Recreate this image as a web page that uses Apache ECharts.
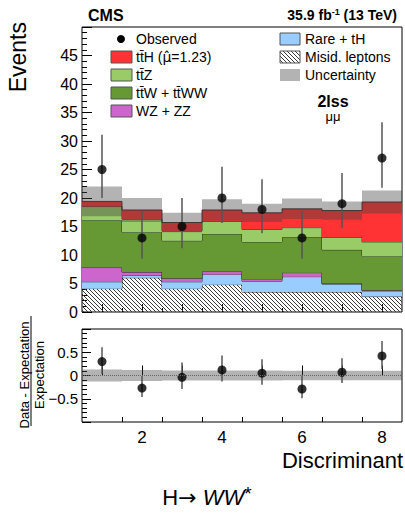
<!DOCTYPE html>
<html>
<head>
<meta charset="utf-8">
<script src="https://cdn.jsdelivr.net/npm/echarts@6/dist/echarts.min.js"></script>
<style>
  html, body { margin: 0; padding: 0; background: #fff; }
  #chart { width: 405px; height: 514px; }
</style>
</head>
<body>
<div id="chart"></div>
<script>
// bins of the discriminant
const bins = [1, 2, 3, 4, 5, 6, 7, 8];
// stacked expectations, bottom to top
const misid = [4.1, 6.0, 4.1, 4.8, 3.5, 3.5, 3.5, 2.7];
const rare = [1.2, 0.4, 1.2, 1.8, 1.9, 2.7, 1.4, 1.0];
const wzzz = [2.5, 0.6, 0.6, 0.5, 0.4, 0.7, 0.1, 0.1];
const ttw = [8.3, 7.0, 6.6, 6.6, 6.5, 6.2, 5.9, 6.0];
const ttz = [2.4, 2.3, 1.7, 2.2, 2.2, 1.7, 2.2, 2.5];
const tth = [0.9, 1.6, 1.5, 2.0, 2.9, 3.3, 4.7, 7.0];
const uncert = [2.6, 2.1, 1.7, 1.9, 1.6, 1.8, 1.6, 2.0];
// observed events and their asymmetric errors
const observed = [25, 13, 15, 20, 18, 13, 19, 27];
const obsErrLow = [5.0, 3.6, 3.8, 4.4, 4.2, 3.6, 4.3, 5.2];
const obsErrHigh = [6.1, 4.7, 5.0, 5.5, 5.3, 4.7, 5.4, 6.3];
// lower panel: (data - expectation) / expectation
const ratio = [0.30, -0.27, -0.04, 0.12, 0.05, -0.29, 0.07, 0.42];
const ratioErrLow = [0.26, 0.19, 0.25, 0.25, 0.25, 0.20, 0.23, 0.28];
const ratioErrHigh = [0.31, 0.26, 0.32, 0.31, 0.30, 0.29, 0.30, 0.32];
const ratioUnc = [0.13, 0.12, 0.11, 0.11, 0.11, 0.10, 0.10, 0.10];
// tick labels
const xMajor = [1, 2, 3, 4, 5, 6, 7, 8];
const xMinor = [1.5, 2.5, 3.5, 4.5, 5.5, 6.5, 7.5];
const xLabels = [2, 4, 6, 8];

const FONT = '"Liberation Sans", Arial, Helvetica, sans-serif';
const EDGE = 'rgba(30,30,30,0.85)';
const BAND = 'rgba(64,64,64,0.4)';

// hatch for misidentified leptons
const hatch = document.createElement('canvas');
hatch.width = 4; hatch.height = 4;
(function () {
  const g = hatch.getContext('2d');
  g.strokeStyle = '#3a3a3a';
  g.lineWidth = 1;
  g.beginPath();
  g.moveTo(-1, -1); g.lineTo(5, 5);
  g.moveTo(-1, 3); g.lineTo(1, 5);
  g.moveTo(3, -1); g.lineTo(5, 1);
  g.stroke();
})();
const hatchFill = { image: hatch, repeat: 'repeat' };

const layers = [
  { vals: misid, fill: hatchFill },
  { vals: rare, fill: '#99ccff' },
  { vals: wzzz, fill: '#cc66cc' },
  { vals: ttw, fill: '#669933' },
  { vals: ttz, fill: '#99cc66' },
  { vals: tth, fill: '#ff3333' }
];
let base = bins.map(() => 0);
layers.forEach(l => {
  l.lo = base.slice();
  l.hi = base.map((b, i) => b + l.vals[i]);
  base = l.hi;
});
const total = base;

function stepItem(lo, hi, fill) {
  return function (params, api) {
    const i = params.dataIndex;
    const a = api.coord([bins[i] - 0.5, lo[i]]);
    const b = api.coord([bins[i] + 0.5, hi[i]]);
    const kids = [
      { type: 'rect', shape: { x: a[0], y: b[1], width: b[0] - a[0], height: a[1] - b[1] }, style: { fill: fill } },
      { type: 'line', shape: { x1: a[0], y1: b[1], x2: b[0], y2: b[1] }, style: { stroke: EDGE, lineWidth: 1 } }
    ];
    if (i > 0) {
      const p = api.coord([bins[i] - 0.5, hi[i - 1]]);
      kids.push({ type: 'line', shape: { x1: a[0], y1: p[1], x2: a[0], y2: b[1] }, style: { stroke: EDGE, lineWidth: 1 } });
    }
    return { type: 'group', children: kids };
  };
}

function bandItem(center, half, fill) {
  return function (params, api) {
    const i = params.dataIndex;
    const a = api.coord([bins[i] - 0.5, center[i] - half[i]]);
    const b = api.coord([bins[i] + 0.5, center[i] + half[i]]);
    return { type: 'rect', shape: { x: a[0], y: b[1], width: b[0] - a[0], height: a[1] - b[1] }, style: { fill: fill } };
  };
}

function errItem(vals, lo, hi) {
  return function (params, api) {
    const i = params.dataIndex;
    const a = api.coord([bins[i], vals[i] - lo[i]]);
    const b = api.coord([bins[i], vals[i] + hi[i]]);
    return { type: 'line', shape: { x1: a[0], y1: a[1], x2: b[0], y2: b[1] }, style: { stroke: '#555', lineWidth: 1.5 } };
  };
}

const series = [];
layers.forEach(l => {
  series.push({
    type: 'custom', xAxisIndex: 0, yAxisIndex: 0, clip: true,
    renderItem: stepItem(l.lo, l.hi, l.fill),
    data: bins.map((b, i) => [b, l.hi[i]]), encode: { x: 0, y: 1 }, silent: true
  });
});
series.push({
  type: 'custom', xAxisIndex: 0, yAxisIndex: 0, clip: true,
  renderItem: bandItem(total, uncert, BAND),
  data: bins.map((b, i) => [b, total[i]]), encode: { x: 0, y: 1 }, silent: true
});
series.push({
  type: 'custom', xAxisIndex: 0, yAxisIndex: 0,
  renderItem: errItem(observed, obsErrLow, obsErrHigh),
  data: bins.map((b, i) => [b, observed[i]]), encode: { x: 0, y: 1 }, silent: true
});
series.push({
  type: 'scatter', xAxisIndex: 0, yAxisIndex: 0, symbolSize: 9,
  itemStyle: { color: '#000' }, data: bins.map((b, i) => [b, observed[i]]), silent: true
});
// lower panel
const zeros = bins.map(() => 0);
series.push({
  type: 'custom', xAxisIndex: 2, yAxisIndex: 1, clip: true,
  renderItem: bandItem(zeros, ratioUnc, BAND),
  data: bins.map(b => [b, 0]), encode: { x: 0, y: 1 }, silent: true,
  markLine: {
    silent: true, symbol: 'none', label: { show: false },
    lineStyle: { color: '#666', type: [1, 1], width: 1 },
    data: [{ yAxis: 0 }]
  }
});
series.push({
  type: 'custom', xAxisIndex: 2, yAxisIndex: 1,
  renderItem: errItem(ratio, ratioErrLow, ratioErrHigh),
  data: bins.map((b, i) => [b, ratio[i]]), encode: { x: 0, y: 1 }, silent: true
});
series.push({
  type: 'scatter', xAxisIndex: 2, yAxisIndex: 1, symbolSize: 9,
  itemStyle: { color: '#000' }, data: bins.map((b, i) => [b, ratio[i]]), silent: true
});

function xAxisDef(grid, values, len, labels) {
  return {
    type: 'value', gridIndex: grid, position: 'bottom', min: 0.5, max: 8.5,
    axisLine: { show: false },
    axisTick: { show: true, inside: true, length: len, customValues: values, lineStyle: { color: '#000' } },
    axisLabel: labels ? { show: true, customValues: labels, fontSize: 17, fontFamily: FONT, color: '#000', margin: 7 } : { show: false },
    splitLine: { show: false }
  };
}

function txt(x, y, text, opt) {
  opt = opt || {};
  return {
    type: 'text', x: x, y: y, rotation: opt.rot || 0, silent: true,
    style: {
      text: text, fill: '#000',
      font: (opt.weight || 'normal') + ' ' + (opt.size || 14) + 'px ' + FONT,
      align: opt.align || 'left', textAlign: opt.align || 'left',
      verticalAlign: 'middle', textVerticalAlign: 'middle',
      rich: opt.rich
    }
  };
}
function box(x, y, w, h, fill, stroke) {
  return { type: 'rect', silent: true, shape: { x: x, y: y - h / 2, width: w, height: h },
    style: { fill: fill, stroke: stroke || null, lineWidth: 1 } };
}

const graphic = [
  txt(88, 15, 'CMS', { weight: 'bold', size: 16 }),
  txt(397, 15, '{a|35.9 fb}{s|-1}{a| (13 TeV)}', {
    align: 'right',
    rich: {
      a: { font: 'bold 14px ' + FONT, lineHeight: 16 },
      s: { font: 'bold 9px ' + FONT, lineHeight: 9, verticalAlign: 'top' }
    }
  }),
  { type: 'circle', silent: true, shape: { cx: 121, cy: 39, r: 4 }, style: { fill: '#000' } },
  txt(136, 39, 'Observed'),
  box(111, 57, 21, 12, '#ff3333', '#555'),
  txt(136, 57, '{a|tt\u0304H (}{m|\u03bc\u0302}{a|=1.23)}', {
    rich: {
      a: { font: '14px ' + FONT, lineHeight: 16 },
      m: { font: '14px "DejaVu Sans", sans-serif', lineHeight: 16 }
    }
  }),
  box(111, 75, 21, 12, '#99cc66', '#555'),
  txt(136, 75, 'tt\u0304Z'),
  box(111, 93, 21, 12, '#669933', '#555'),
  txt(136, 93, 'tt\u0304W + tt\u0304WW'),
  box(111, 111, 21, 12, '#cc66cc', '#555'),
  txt(136, 111, 'WZ + ZZ'),
  box(280, 39, 20, 12, '#99ccff', '#555'),
  txt(305, 39, 'Rare + tH'),
  box(280, 57, 20, 12, hatchFill, '#555'),
  txt(305, 57, 'Misid. leptons'),
  box(280, 75, 20, 12, '#b3b3b3', null),
  txt(305, 75, 'Uncertainty'),
  txt(333, 101, '2lss', { weight: 'bold', size: 16, align: 'center' }),
  txt(333, 116, '\u03bc\u03bc', { size: 13, align: 'center' }),
  txt(18, 22, 'Events', { size: 23, align: 'right', rot: Math.PI / 2 }),
  txt(24, 375, 'Data - Expectation', { size: 13, align: 'center', rot: Math.PI / 2 }),
  { type: 'line', silent: true, shape: { x1: 31, y1: 316, x2: 31, y2: 426 }, style: { stroke: '#000', lineWidth: 1 } },
  txt(39, 375, 'Expectation', { size: 13, align: 'center', rot: Math.PI / 2 }),
  txt(403, 460, 'Discriminant', { size: 22, align: 'right' }),
  txt(207, 497, '{a|H}{r|\u2192}{a| }{b|WW}{c|*}', {
    align: 'center',
    rich: {
      a: { font: '22px ' + FONT, lineHeight: 26 },
      r: { font: '22px "DejaVu Sans", sans-serif', lineHeight: 26 },
      b: { font: 'italic 22px ' + FONT, lineHeight: 26 },
      c: { font: '19px ' + FONT, lineHeight: 18, verticalAlign: 'top' }
    }
  })
];

const chart = echarts.init(document.getElementById('chart'), null, { renderer: 'svg' });
chart.setOption({
  backgroundColor: '#fff',
  animation: false,
  grid: [
    { left: 82, right: 3, top: 27, height: 285, show: true, borderColor: '#000', borderWidth: 1, backgroundColor: 'transparent' },
    { left: 82, right: 3, top: 329, height: 93, show: true, borderColor: '#000', borderWidth: 1, backgroundColor: 'transparent' }
  ],
  xAxis: [
    xAxisDef(0, xMajor, 8, null),
    xAxisDef(0, xMinor, 4, null),
    xAxisDef(1, xMajor, 10, xLabels),
    xAxisDef(1, xMinor, 5, null)
  ],
  yAxis: [
    {
      type: 'value', gridIndex: 0, min: 0, max: 50, interval: 5,
      axisLine: { show: false },
      axisTick: { inside: true, length: 10, lineStyle: { color: '#000' } },
      minorTick: { show: true, splitNumber: 5, length: 5, lineStyle: { color: '#000' } },
      axisLabel: { fontSize: 16, fontFamily: FONT, color: '#000', margin: 4, showMaxLabel: false },
      splitLine: { show: false }, minorSplitLine: { show: false }
    },
    {
      type: 'value', gridIndex: 1, min: -1, max: 1, interval: 0.5,
      axisLine: { show: false },
      axisTick: { inside: true, length: 9, lineStyle: { color: '#000' } },
      minorTick: { show: true, splitNumber: 5, length: 5, lineStyle: { color: '#000' } },
      axisLabel: {
        fontSize: 15, fontFamily: FONT, color: '#000', margin: 4,
        showMinLabel: false, showMaxLabel: false,
        formatter: v => String(v).replace('-', '\u2212')
      },
      splitLine: { show: false }, minorSplitLine: { show: false }
    }
  ],
  graphic: graphic,
  series: series
});
</script>
</body>
</html>
